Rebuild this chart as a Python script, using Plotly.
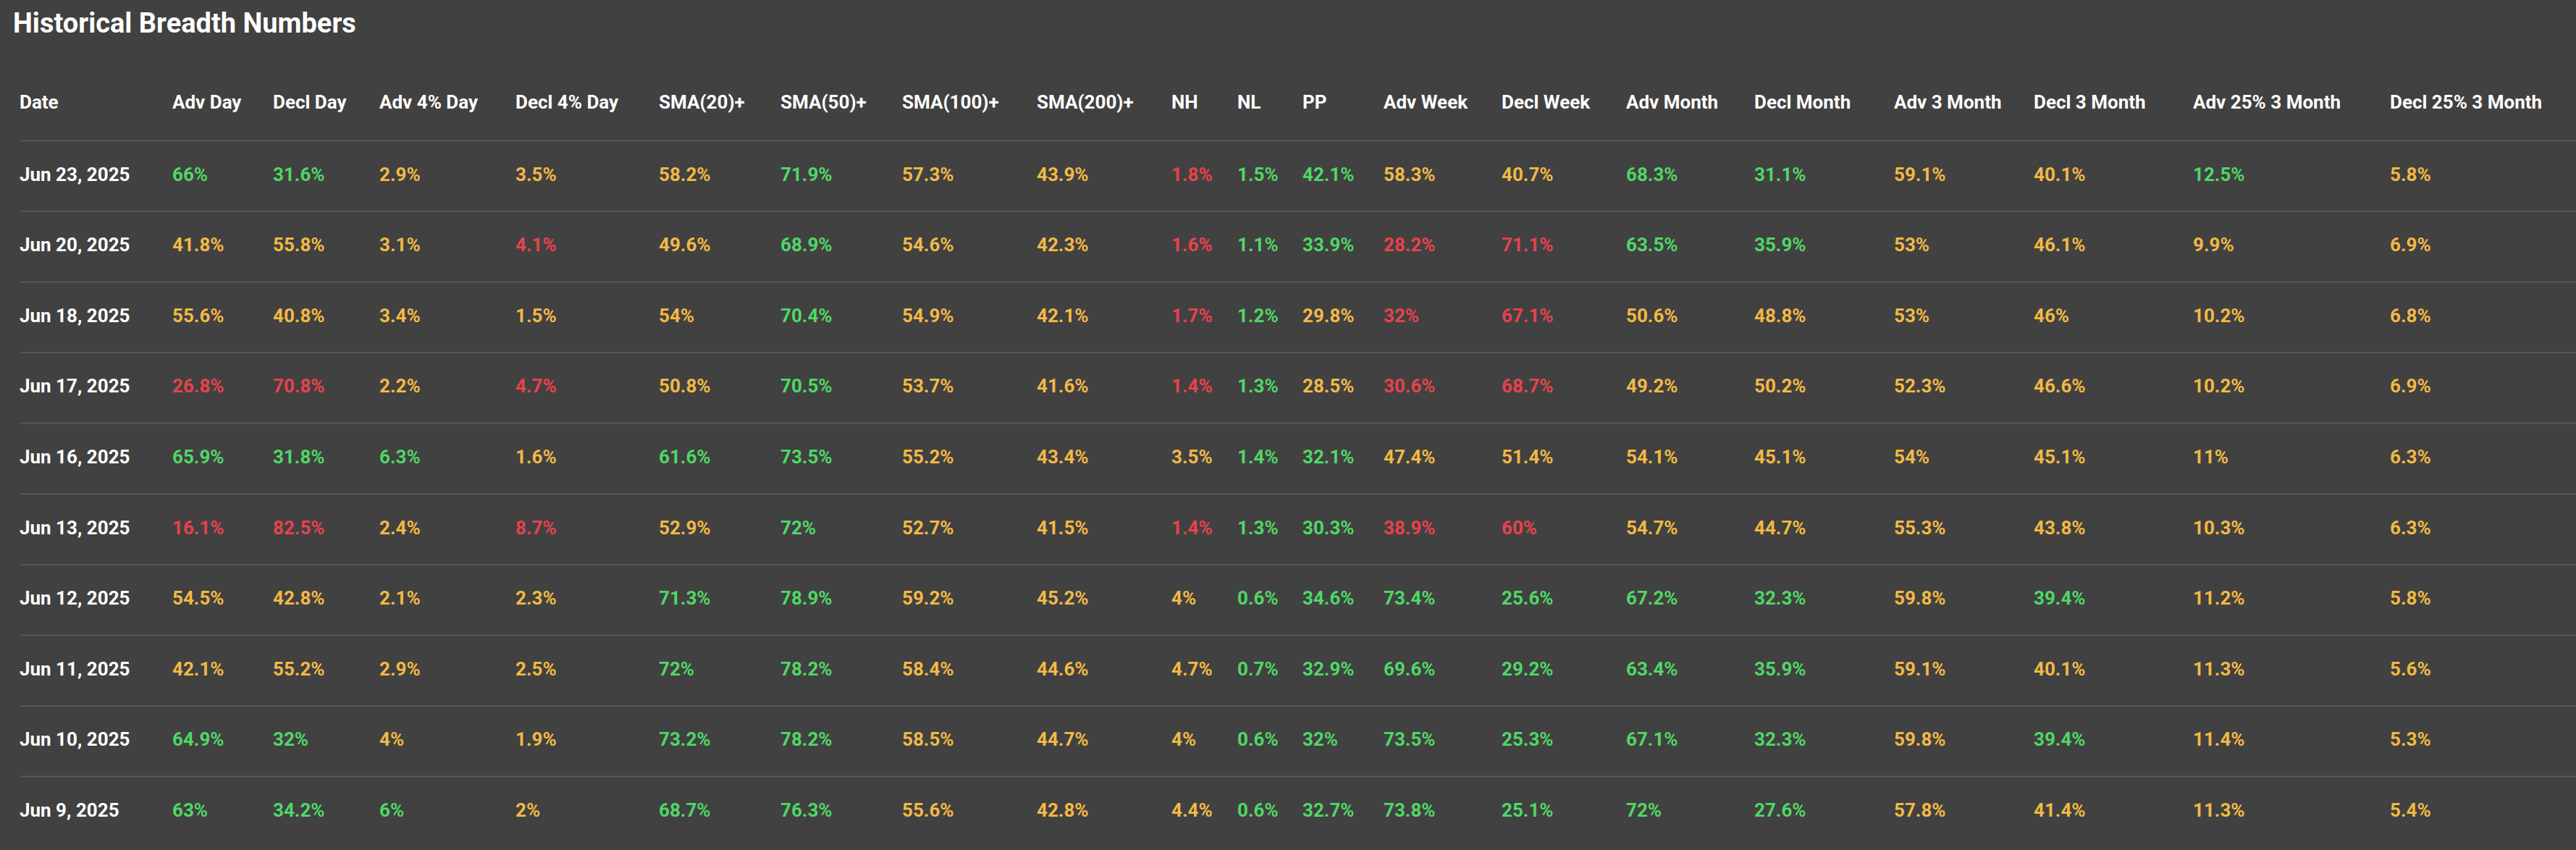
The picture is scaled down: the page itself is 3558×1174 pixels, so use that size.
import plotly.graph_objects as go

title = "Historical Breadth Numbers"
columns = ["Date", "Adv Day", "Decl Day", "Adv 4% Day", "Decl 4% Day", "SMA(20)+", "SMA(50)+",
           "SMA(100)+", "SMA(200)+", "NH", "NL", "PP", "Adv Week", "Decl Week", "Adv Month",
           "Decl Month", "Adv 3 Month", "Decl 3 Month", "Adv 25% 3 Month", "Decl 25% 3 Month"]
dates = ["Jun 23, 2025", "Jun 20, 2025", "Jun 18, 2025", "Jun 17, 2025", "Jun 16, 2025",
         "Jun 13, 2025", "Jun 12, 2025", "Jun 11, 2025", "Jun 10, 2025", "Jun 9, 2025"]
values = [
    ["66%", "31.6%", "2.9%", "3.5%", "58.2%", "71.9%", "57.3%", "43.9%", "1.8%", "1.5%", "42.1%", "58.3%", "40.7%", "68.3%", "31.1%", "59.1%", "40.1%", "12.5%", "5.8%"],
    ["41.8%", "55.8%", "3.1%", "4.1%", "49.6%", "68.9%", "54.6%", "42.3%", "1.6%", "1.1%", "33.9%", "28.2%", "71.1%", "63.5%", "35.9%", "53%", "46.1%", "9.9%", "6.9%"],
    ["55.6%", "40.8%", "3.4%", "1.5%", "54%", "70.4%", "54.9%", "42.1%", "1.7%", "1.2%", "29.8%", "32%", "67.1%", "50.6%", "48.8%", "53%", "46%", "10.2%", "6.8%"],
    ["26.8%", "70.8%", "2.2%", "4.7%", "50.8%", "70.5%", "53.7%", "41.6%", "1.4%", "1.3%", "28.5%", "30.6%", "68.7%", "49.2%", "50.2%", "52.3%", "46.6%", "10.2%", "6.9%"],
    ["65.9%", "31.8%", "6.3%", "1.6%", "61.6%", "73.5%", "55.2%", "43.4%", "3.5%", "1.4%", "32.1%", "47.4%", "51.4%", "54.1%", "45.1%", "54%", "45.1%", "11%", "6.3%"],
    ["16.1%", "82.5%", "2.4%", "8.7%", "52.9%", "72%", "52.7%", "41.5%", "1.4%", "1.3%", "30.3%", "38.9%", "60%", "54.7%", "44.7%", "55.3%", "43.8%", "10.3%", "6.3%"],
    ["54.5%", "42.8%", "2.1%", "2.3%", "71.3%", "78.9%", "59.2%", "45.2%", "4%", "0.6%", "34.6%", "73.4%", "25.6%", "67.2%", "32.3%", "59.8%", "39.4%", "11.2%", "5.8%"],
    ["42.1%", "55.2%", "2.9%", "2.5%", "72%", "78.2%", "58.4%", "44.6%", "4.7%", "0.7%", "32.9%", "69.6%", "29.2%", "63.4%", "35.9%", "59.1%", "40.1%", "11.3%", "5.6%"],
    ["64.9%", "32%", "4%", "1.9%", "73.2%", "78.2%", "58.5%", "44.7%", "4%", "0.6%", "32%", "73.5%", "25.3%", "67.1%", "32.3%", "59.8%", "39.4%", "11.4%", "5.3%"],
    ["63%", "34.2%", "6%", "2%", "68.7%", "76.3%", "55.6%", "42.8%", "4.4%", "0.6%", "32.7%", "73.8%", "25.1%", "72%", "27.6%", "57.8%", "41.4%", "11.3%", "5.4%"],
]
# g = green, y = amber, r = red
tones = [
    "ggyyygyyrggyygg yygy",
    "yyyryg yyrggrrggyyyy",
    "yyyyyg yyrgyrryyyyyy",
    "rryryg yyrgyrryyyyyy",
    "gggygg yyyggyyyyyyyy",
    "rryryg yyrggrryyyyyy",
    "yyyygg yyyggggggygyy",
    "yyyygg yyyggggggyyyy",
    "ggyygg yyyggggggygyy",
    "gggygg yyyggggggyyyy",
]
tones = [t.replace(" ", "") for t in tones]

palette = {"g": "#4fd866", "y": "#f2b944", "r": "#e8424c"}
bg = "#414141"

# layout (pixels)
col_x = [27, 238, 377, 524, 712, 910, 1078, 1246, 1432, 1618, 1709, 1799, 1911, 2074,
         2246, 2423, 2616, 2809, 3029, 3301]
header_y = 143
row0_y = 243
row_h = 97.6

fig = go.Figure()
fig.add_trace(go.Scatter(
    x=col_x, y=[header_y] * len(columns), text=columns, mode="text",
    textposition="middle right", hoverinfo="skip",
    textfont=dict(family="Roboto", size=26, color="white", weight="bold")))

for i, d in enumerate(dates):
    y = row0_y + i * row_h
    fig.add_trace(go.Scatter(
        x=col_x, y=[y] * len(col_x), text=[d] + values[i], mode="text",
        textposition="middle right", hoverinfo="skip",
        textfont=dict(family="Roboto", size=26, weight="bold",
                      color=["white"] + [palette[c] for c in tones[i]])))

for i in range(len(dates)):
    yl = row0_y - row_h / 2 + i * row_h
    fig.add_shape(type="line", x0=28, x1=3558, y0=yl, y1=yl,
                  line=dict(color="#585858", width=2))

fig.add_annotation(text="<b>" + title + "</b>", x=16, y=32, xref="x", yref="y",
                   xanchor="left", yanchor="middle", showarrow=False,
                   font=dict(family="Roboto", size=38, color="white"))

fig.update_layout(
    width=3558, height=1174, margin=dict(l=0, r=0, t=0, b=0),
    paper_bgcolor=bg, plot_bgcolor=bg, showlegend=False,
    xaxis=dict(range=[0, 3558], visible=False, fixedrange=True),
    yaxis=dict(range=[1174, 0], visible=False, fixedrange=True),
)
fig.write_html("out.html", config={"displayModeBar": False})

# drop the page margin so the figure fills the window
with open("out.html", encoding="utf-8") as f:
    page = f.read()
page = page.replace("<head>", "<head><style>html,body{margin:0;padding:0;overflow:hidden;background:#414141}</style>", 1)
with open("out.html", "w", encoding="utf-8") as f:
    f.write(page)
